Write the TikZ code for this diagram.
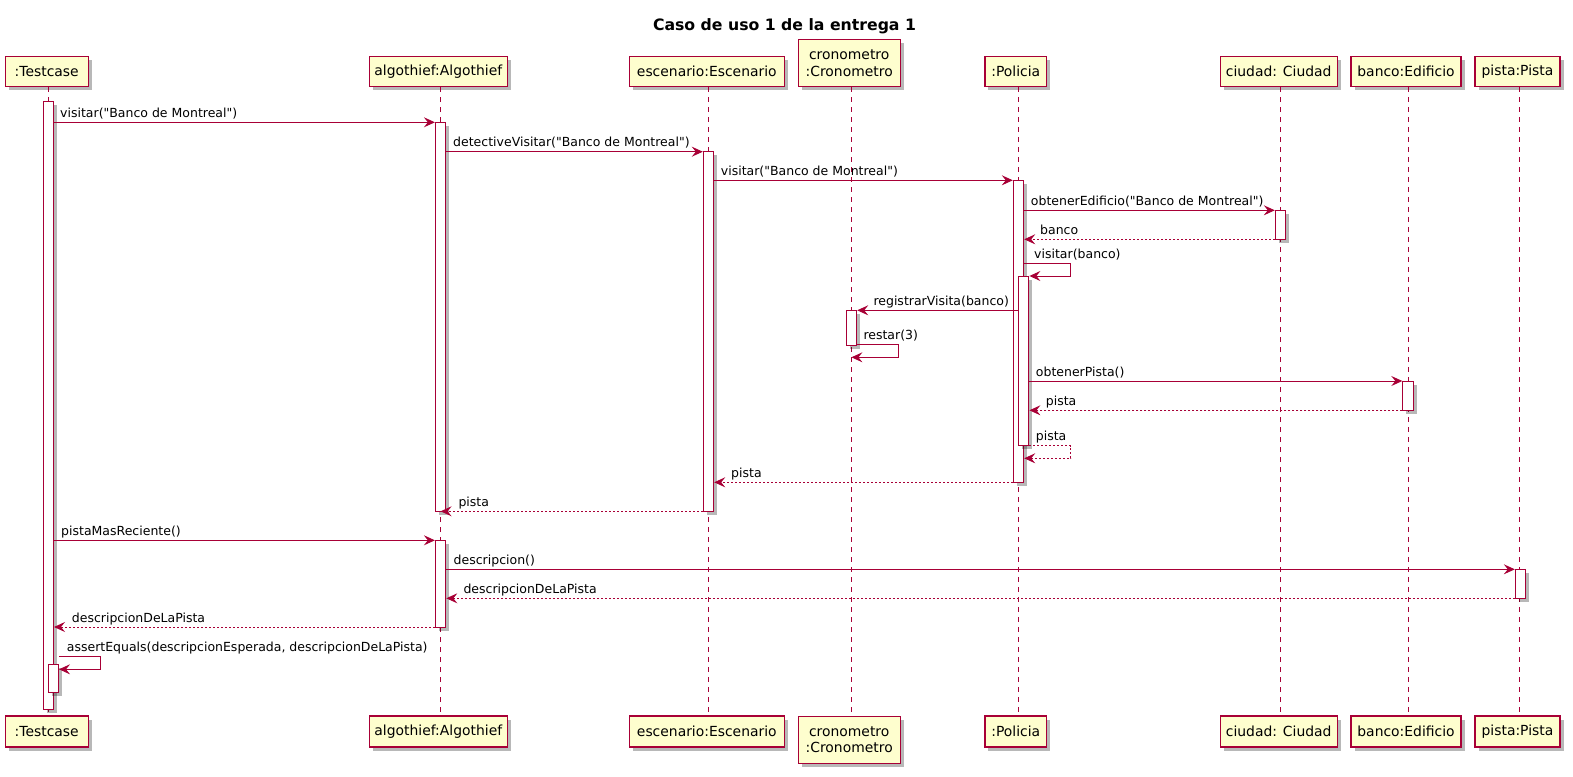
\documentclass[tikz,border=0pt]{standalone}
\usepackage{fontspec}
\setmainfont{DejaVu Sans}[Ligatures=TeXOff]
\usetikzlibrary{arrows.meta,shadows}
\definecolor{umlred}{HTML}{A80036}
\definecolor{umlyellow}{HTML}{FEFECE}
\begin{document}
\begin{tikzpicture}[x=1pt,y=-1pt,
  shad/.style={drop shadow={shadow xshift=3.5pt,shadow yshift=-3.5pt,fill=black,opacity=0.28}},
  part/.style={draw=umlred, fill=umlyellow, line width=1.1pt, inner sep=0pt, minimum height=30pt,
    font=\fontsize{13.9}{16.6}\selectfont, align=center, shad},
  life/.style={draw=umlred, line width=1pt, dash pattern=on 5pt off 5pt},
  act/.style={draw=umlred, fill=white, line width=1pt, minimum width=10.4pt, inner sep=0pt, shad},
  msg/.style={draw=umlred, line width=1pt, -{Stealth[length=11pt,width=10pt,inset=4pt]}},
  ret/.style={msg, dash pattern=on 2pt off 2pt},
  lbl/.style={anchor=base west, inner sep=0pt, font=\fontsize{12.5}{15}\selectfont}
]
\useasboundingbox (0,0) rectangle (1573,776);

% title
\node[anchor=base, inner sep=0pt, font=\bfseries\fontsize{15.7}{18}\selectfont] (title) at (784.5,30.5) {Caso de uso 1 de la entrega 1};

% lifeline x positions
\coordinate (lT) at (48.3,0);
\coordinate (lA) at (440.6,0);
\coordinate (lE) at (708.4,0);
\coordinate (lC) at (851.4,0);
\coordinate (lP) at (1018.4,0);
\coordinate (lCi) at (1280.5,0);
\coordinate (lB) at (1408,0);
\coordinate (lPi) at (1519.7,0);

% participants (top)
\node[part, minimum width=83.3pt] (tT) at (46.7,71.7) {:Testcase};
\node[part, minimum width=138pt] (tA) at (438.3,71.7) {algothief:Algothief};
\node[part, minimum width=155pt] (tE) at (706.8,71.7) {escenario:Escenario};
\node[part, minimum width=101.7pt, minimum height=46.7pt] (tC) at (849.2,63.3) {cronometro\\:Cronometro};
\node[part, minimum width=61.7pt] (tP) at (1015.8,71.7) {:Policia};
\node[part, minimum width=117.3pt] (tCi) at (1278.7,71.7) {ciudad: Ciudad};
\node[part, minimum width=110pt] (tB) at (1406,71.7) {banco:Edificio};
\node[part, minimum width=85pt] (tPi) at (1517.5,71.7) {pista:Pista};

% participants (bottom)
\node[part, minimum width=83.3pt, minimum height=31pt] (bT) at (46.7,731.5) {:Testcase};
\node[part, minimum width=138pt, minimum height=31pt] (bA) at (438.3,731.5) {algothief:Algothief};
\node[part, minimum width=155pt, minimum height=31pt] (bE) at (706.8,731.5) {escenario:Escenario};
\node[part, minimum width=101.7pt, minimum height=47.3pt] (bC) at (849.2,739.7) {cronometro\\:Cronometro};
\node[part, minimum width=61.7pt, minimum height=31pt] (bP) at (1015.8,731.5) {:Policia};
\node[part, minimum width=117.3pt, minimum height=31pt] (bCi) at (1278.7,731.5) {ciudad: Ciudad};
\node[part, minimum width=110pt, minimum height=31pt] (bB) at (1406,731.5) {banco:Edificio};
\node[part, minimum width=85pt, minimum height=31pt] (bPi) at (1517.5,731.5) {pista:Pista};

% lifelines
\foreach \l/\t/\b in {lT/tT/bT, lA/tA/bA, lE/tE/bE, lC/tC/bC, lP/tP/bP, lCi/tCi/bCi, lB/tB/bB, lPi/tPi/bPi}
  \draw[life] (\l |- \t.south) -- (\l |- \b.north);

% activations
\node[act, minimum height=607.6pt] (aT) at (48.3,405.5) {};
\node[act, minimum height=389.4pt] (aA1) at (440.6,317) {};
\node[act, minimum height=86.7pt] (aA2) at (440.6,583.7) {};
\node[act, minimum height=359.3pt] (aE) at (708.5,331.4) {};
\node[act, minimum height=35pt] (aC) at (851.5,327.8) {};
\node[act, minimum height=302pt] (aP1) at (1018.5,331.3) {};
\node[act, minimum height=169.7pt] (aP2) at (1023.7,360.9) {};
\node[act, minimum height=29pt] (aCi) at (1280.5,224.8) {};
\node[act, minimum height=29.3pt] (aB) at (1408,395.7) {};
\node[act, minimum height=29pt] (aPi) at (1520.5,583.8) {};
\node[act, minimum height=27.7pt] (aT2) at (53.3,678.2) {};

% message rows
\coordinate (y1) at (0,122.3);
\coordinate (y2) at (0,151.7);
\coordinate (y3) at (0,180.3);
\coordinate (y4) at (0,210.3);
\coordinate (y5) at (0,239.3);
\coordinate (s6) at (1070,263.7);
\coordinate (e6) at (1070,276);
\coordinate (y7) at (0,310.3);
\coordinate (s8) at (898,344.3);
\coordinate (e8) at (898,357.3);
\coordinate (y9) at (0,381);
\coordinate (y10) at (0,410.3);
\coordinate (s11) at (1070.7,445.7);
\coordinate (e11) at (1070.7,458.3);
\coordinate (y12) at (0,482.3);
\coordinate (y13) at (0,511.3);
\coordinate (y14) at (0,540.3);
\coordinate (y15) at (0,569.3);
\coordinate (y16) at (0,598.3);
\coordinate (y17) at (0,627);
\coordinate (s18) at (100.3,656.7);
\coordinate (e18) at (100.3,669.3);

% messages
\draw[msg] (aT.east |- y1) -- (aA1.west |- y1);
\draw[msg] (aA1.east |- y2) -- (aE.west |- y2);
\draw[msg] (aE.east |- y3) -- (aP1.west |- y3);
\draw[msg] (aP1.east |- y4) -- (aCi.west |- y4);
\draw[ret] (aCi.west |- y5) -- (aP1.east |- y5);
\draw[msg] (aP1.east |- s6) -- (s6) -- (e6) -- (aP2.east |- e6);
\draw[msg] (aP2.west |- y7) -- (aC.east |- y7);
\draw[msg] (aC.east |- s8) -- (s8) -- (e8) -- (lC |- e8);
\draw[msg] (aP2.east |- y9) -- (aB.west |- y9);
\draw[ret] (aB.west |- y10) -- (aP2.east |- y10);
\draw[ret] (aP2.east |- s11) -- (s11) -- (e11) -- (aP1.east |- e11);
\draw[ret] (aP1.west |- y12) -- (aE.east |- y12);
\draw[ret] (aE.west |- y13) -- (lA |- y13);
\draw[msg] (aT.east |- y14) -- (aA2.west |- y14);
\draw[msg] (aA2.east |- y15) -- (aPi.west |- y15);
\draw[ret] (aPi.west |- y16) -- (aA2.east |- y16);
\draw[ret] (aA2.west |- y17) -- (aT.east |- y17);
\draw[msg] (aT2.east |- s18) -- (s18) -- (e18) -- (aT2.east |- e18);

% labels
\node[lbl] (m1) at (60,117.3) {visitar("Banco de Montreal")};
\node[lbl] (m2) at (453,146.7) {detectiveVisitar("Banco de Montreal")};
\node[lbl] (m3) at (720.7,175.3) {visitar("Banco de Montreal")};
\node[lbl] (m4) at (1030.7,205.3) {obtenerEdificio("Banco de Montreal")};
\node[lbl] (m5) at (1040,234.3) {banco};
\node[lbl] (m6) at (1034,258.7) {visitar(banco)};
\node[lbl] (m7) at (873.3,305.3) {registrarVisita(banco)};
\node[lbl] (m8) at (863.3,339.3) {restar(3)};
\node[lbl] (m9) at (1035.7,376) {obtenerPista()};
\node[lbl] (m10) at (1045.7,405.3) {pista};
\node[lbl] (m11) at (1035.7,440.7) {pista};
\node[lbl] (m12) at (731,477.3) {pista};
\node[lbl] (m13) at (458.3,506.3) {pista};
\node[lbl] (m14) at (61,535.3) {pistaMasReciente()};
\node[lbl] (m15) at (453.5,564.3) {descripcion()};
\node[lbl] (m16) at (463.3,593.3) {descripcionDeLaPista};
\node[lbl] (m17) at (71.7,622) {descripcionDeLaPista};
\node[lbl] (m18) at (66.7,651.7) {assertEquals(descripcionEsperada, descripcionDeLaPista)};
\end{tikzpicture}
\end{document}
